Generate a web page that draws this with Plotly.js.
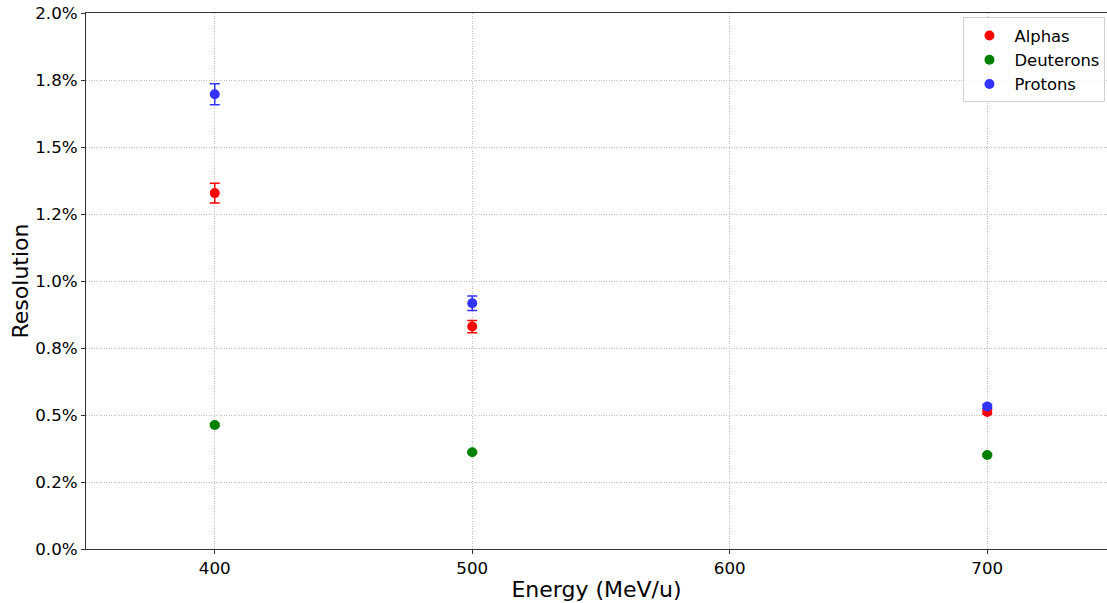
<!DOCTYPE html>
<html>
<head>
<meta charset="utf-8">
<script src="https://cdn.plot.ly/plotly-3.0.1.min.js"></script>
<style>html,body{margin:0;padding:0;background:#fff;}#chart{width:1107px;height:603px;}</style>
</head>
<body>
<div id="chart"></div>
<script>
const energies = [400, 500, 700];
const alphas = [0.01328, 0.00830, 0.00511];
const alphasErr = [0.00037, 0.00023, 0.00008];
const deuterons = [0.00463, 0.00361, 0.00351];
const deuteronsErr = [0.00005, 0.00004, 0.00004];
const protons = [0.01697, 0.00917, 0.00532];
const protonsErr = [0.00039, 0.00027, 0.00008];
const yTickVals = [0, 0.0025, 0.005, 0.0075, 0.01, 0.0125, 0.015, 0.0175, 0.02];
const yTickText = ["0.0%", "0.2%", "0.5%", "0.8%", "1.0%", "1.2%", "1.5%", "1.8%", "2.0%"];
const xTickVals = [400, 500, 600, 700];

function series(name, y, err, color) {
  return {
    type: 'scatter', mode: 'markers', name: name, x: energies, y: y,
    marker: {color: color, size: 10},
    error_y: {type: 'data', array: err, visible: true, color: color, thickness: 1.5, width: 5}
  };
}
const data = [
  series('Alphas', alphas, alphasErr, '#ff0000'),
  series('Deuterons', deuterons, deuteronsErr, '#008000'),
  series('Protons', protons, protonsErr, '#3333ff')
];
const layout = {
  width: 1107, height: 603,
  margin: {l: 86, r: 0, t: 13, b: 54},
  paper_bgcolor: '#fff', plot_bgcolor: '#fff',
  font: {family: 'DejaVu Sans', size: 16.7, color: '#000'},
  showlegend: true,
  legend: {x: 0.9985, xanchor: 'right', y: 0.992, yanchor: 'top', bgcolor: 'rgba(255,255,255,0.8)',
           bordercolor: '#d0d0d0', borderwidth: 1, font: {size: 16.4}, tracegroupgap: 0, itemwidth: 40},
  xaxis: {
    range: [350, 746.5], tickvals: xTickVals, ticks: 'outside', ticklen: 4, tickcolor: '#333',
    showline: true, linecolor: '#333', linewidth: 1, mirror: true,
    showgrid: true, gridcolor: '#b0b0b0', griddash: '1px,1.5px', gridwidth: 0.8, zeroline: false,
    title: {text: 'Energy (MeV/u)', font: {size: 22}, standoff: 4}
  },
  yaxis: {
    range: [0, 0.02], tickvals: yTickVals, ticktext: yTickText, ticks: 'outside', ticklen: 4, tickcolor: '#333',
    showline: true, linecolor: '#333', linewidth: 1,
    showgrid: true, gridcolor: '#b0b0b0', griddash: '1px,1.5px', gridwidth: 0.8, zeroline: false,
    title: {text: 'Resolution', font: {size: 22}, standoff: 0}
  }
};
Plotly.newPlot('chart', data, layout, {displayModeBar: false, staticPlot: true});
</script>
</body>
</html>
